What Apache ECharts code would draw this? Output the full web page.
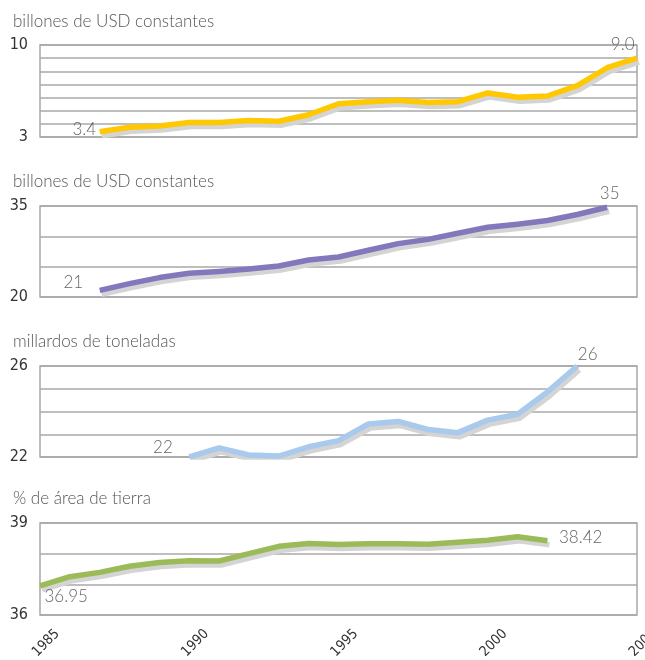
<!DOCTYPE html>
<html>
<head>
<meta charset="utf-8">
<script src="https://cdn.jsdelivr.net/npm/echarts@6/dist/echarts.min.js"></script>
<style>html,body{margin:0;padding:0;background:#fff}#c{width:645px;height:660px}</style>
</head>
<body>
<div id="c"></div>
<script>
// ---- data ----
const titles = ['billones de USD constantes', 'billones de USD constantes', 'millardos de toneladas', '% de área de tierra'];
const xTicks = [1985, 1990, 1995, 2000, 2005];

const years1 = [1987,1988,1989,1990,1991,1992,1993,1994,1995,1996,1997,1998,1999,2000,2001,2002,2003,2004,2005];
const values1 = [3.4,3.74,3.84,4.1,4.1,4.25,4.2,4.69,5.53,5.69,5.79,5.63,5.69,6.35,6.02,6.12,6.91,8.27,9.0];

const years2 = [1987,1988,1989,1990,1991,1992,1993,1994,1995,1996,1997,1998,1999,2000,2001,2002,2003,2004];
const values2 = [21.1,22.2,23.2,23.9,24.2,24.6,25.1,26.1,26.6,27.7,28.8,29.5,30.5,31.5,32.0,32.6,33.6,34.8];

const years3 = [1990,1991,1992,1993,1994,1995,1996,1997,1998,1999,2000,2001,2002,2003];
const values3 = [22.0,22.4,22.09,22.04,22.45,22.72,23.45,23.56,23.21,23.07,23.62,23.88,24.86,26.0];

const years4 = [1985,1986,1987,1988,1989,1990,1991,1992,1993,1994,1995,1996,1997,1998,1999,2000,2001,2002];
const values4 = [36.95,37.25,37.39,37.59,37.71,37.77,37.76,38.0,38.24,38.33,38.30,38.32,38.32,38.31,38.37,38.44,38.55,38.42];

const firstLabels = ['3.4', '21', '22', '36.95'];
const lastLabels = ['9.0', '35', '26', '38.42'];

const yMins = [3, 20, 22, 36];
const yMaxs = [10, 35, 26, 39];
const yIntervals = [1, 5, 1, 1];
// ---- end data ----

const allYears = [years1, years2, years3, years4];
const allValues = [values1, values2, values3, values4];
const colors = ['#FFC800', '#8478BD', '#A9CAEC', '#9BBB59'];

const gridTops = [45, 206, 366, 523];
const gridHeights = [92, 91, 91, 92];
const titleTops = [8, 168, 328, 485];

// label placement relative to the end points (pixel offsets)
const firstLabelCfg = [
  {position: [-3, -2], align: 'right', verticalAlign: 'middle'},
  {position: [-16, -7], align: 'right', verticalAlign: 'middle'},
  {position: [-16, -9], align: 'right', verticalAlign: 'middle'},
  {position: [5, 11], align: 'left', verticalAlign: 'middle'}
];
const lastLabelCfg = [
  {position: [-2, -13], align: 'right', verticalAlign: 'middle'},
  {position: [3, -13], align: 'center', verticalAlign: 'middle'},
  {position: [1, -11], align: 'left', verticalAlign: 'middle'},
  {position: [12, -3], align: 'left', verticalAlign: 'middle'}
];

const labelFont = {fontFamily: 'Lato', fontSize: 17, fontWeight: 300, color: '#666', opacity: 1};
const narrow = "'Liberation Sans Narrow', 'DejaVu Sans Condensed', 'Roboto Condensed', 'DejaVu Sans', sans-serif";

const lineSeries = allYears.map((ys, i) => {
  const vals = allValues[i];
  const data = ys.map((y, k) => {
    const d = {value: [y, vals[k]]};
    if (k === 0) {
      d.label = Object.assign({show: true, formatter: firstLabels[i]}, labelFont, firstLabelCfg[i]);
    } else if (k === ys.length - 1) {
      d.label = Object.assign({show: true, formatter: lastLabels[i]}, labelFont, lastLabelCfg[i]);
    }
    return d;
  });
  return {
    type: 'line', xAxisIndex: i, yAxisIndex: i, data: data,
    symbol: 'circle', symbolSize: 1, showSymbol: true, smooth: false,
    itemStyle: {color: 'rgba(0,0,0,0)'},
    lineStyle: {
      color: colors[i], width: 5.5, cap: 'butt', join: 'round',
      shadowColor: '#d4d4d4', shadowOffsetX: 2, shadowOffsetY: 4, shadowBlur: 0
    },
    label: {show: false},
    labelLayout: {hideOverlap: false},
    z: 3
  };
});

const option = {
  animation: false,
  backgroundColor: '#fff',
  title: titles.map((t, i) => ({
    text: t, left: 8, top: titleTops[i],
    textStyle: {fontFamily: 'Lato', fontSize: 17, fontWeight: 300, color: '#555'}
  })),
  grid: gridTops.map((t, i) => ({
    left: 40, right: 8, top: t, height: gridHeights[i],
    show: true, borderColor: '#a8a8a8', borderWidth: 1.5, containLabel: false
  })),
  xAxis: gridTops.map((t, i) => ({
    type: 'value', gridIndex: i, min: xTicks[0], max: xTicks[xTicks.length - 1], interval: 5,
    axisLine: {show: false}, axisTick: {show: false}, splitLine: {show: false},
    axisLabel: {show: false}
  })),
  yAxis: gridTops.map((t, i) => ({
    type: 'value', gridIndex: i, min: yMins[i], max: yMaxs[i], interval: yIntervals[i],
    axisLine: {show: false}, axisTick: {show: false},
    splitLine: {show: true, lineStyle: {color: '#a8a8a8', width: 1.5}},
    axisLabel: {
      margin: 12, fontFamily: narrow, fontSize: 16, color: '#333',
      formatter: v => (v === yMins[i] || v === yMaxs[i]) ? String(v) : ''
    }
  })),
  series: lineSeries
};

const chart = echarts.init(document.getElementById('c'), null, {renderer: 'canvas'});
chart.setOption(option);

// rotated year labels under the bottom panel, positioned through the axis scale
const yearLabels = xTicks.map(t => {
  const p = chart.convertToPixel({gridIndex: 3}, [t, yMins[3]]);
  return {
    type: 'text', x: p[0] + 6, y: p[1] + 28, rotation: Math.PI / 4, silent: true,
    style: {
      text: String(t), x: 0, y: 0, align: 'center', verticalAlign: 'middle',
      font: "14px " + narrow, fill: '#333'
    }
  };
});
chart.setOption({graphic: yearLabels});
</script>
</body>
</html>
